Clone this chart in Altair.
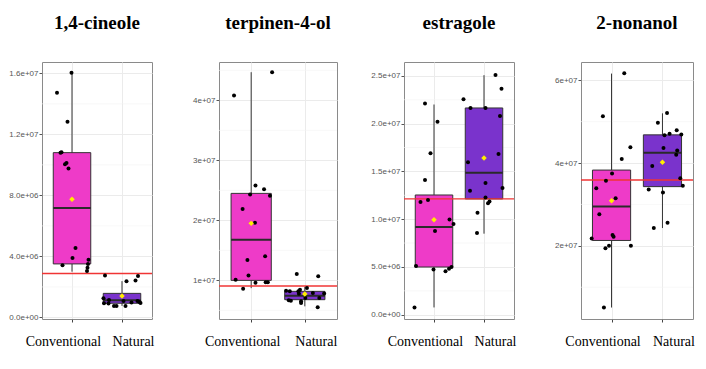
import altair as alt
import pandas as pd

titles = ["1,4-cineole", "terpinen-4-ol", "estragole", "2-nonanol"]
groups = ["Conventional", "Natural"]
box_colors = ["#EE3BC8", "#7A33CC"]

# ---------- panel 1: 1,4-cineole ----------
p1_conv_dx = [-0.01, -0.30, -0.09, -0.23, -0.21, -0.14, -0.11, -0.07, 0.07, 0.01, -0.19, 0.33, 0.32, 0.31, 0.30]
p1_conv_y = [1.604e7, 1.472e7, 1.283e7, 1.08e7, 1.082e7, 1.004e7, 1.012e7, 0.976e7, 0.455e7, 0.39e7, 0.343e7, 0.379e7, 0.351e7, 0.325e7, 0.304e7]
p1_nat_dx = [-0.34, 0.09, 0.27, 0.32, -0.37, -0.36, -0.27, -0.26, -0.16, -0.11, 0.07, 0.03, 0.19, 0.31, 0.35, 0.37]
p1_nat_y = [0.275e7, 0.238e7, 0.243e7, 0.271e7, 0.126e7, 0.093e7, 0.091e7, 0.115e7, 0.076e7, 0.076e7, 0.076e7, 0.108e7, 0.098e7, 0.108e7, 0.102e7, 0.095e7]
# lo, q1, median, q3, hi, mean
p1_conv_stats = [0.30e7, 0.351e7, 0.718e7, 1.08e7, 1.604e7, 0.774e7]
p1_nat_stats = [0.076e7, 0.093e7, 0.113e7, 0.158e7, 0.238e7, 0.141e7]
p1_ref = 0.288e7
p1_domain = [-0.01e7, 1.674e7]
p1_ticks = [0, 4e6, 8e6, 1.2e7, 1.6e7]
p1_tick_labels = ["0.0e+00", "4.0e+06", "8.0e+06", "1.2e+07", "1.6e+07"]

# ---------- panel 2: terpinen-4-ol ----------
p2_conv_dx = [0.39, -0.32, 0.08, 0.24, -0.02, 0.35, -0.16, 0.07, -0.07, 0.26, -0.05, -0.29, -0.15, 0.08, 0.27, 0.31]
p2_conv_y = [4.47e7, 4.08e7, 2.58e7, 2.52e7, 2.43e7, 2.41e7, 2.19e7, 1.96e7, 1.34e7, 1.40e7, 1.08e7, 1.01e7, 0.86e7, 0.96e7, 0.97e7, 0.97e7]
p2_nat_dx = [-0.15, 0.25, -0.35, -0.28, -0.12, -0.09, 0.04, -0.11, 0.15, 0.36, -0.30, -0.26, -0.07, -0.07, 0.01, 0.24, 0.27]
p2_nat_y = [1.106e7, 1.067e7, 0.828e7, 0.817e7, 0.817e7, 0.844e7, 0.872e7, 0.778e7, 0.789e7, 0.783e7, 0.667e7, 0.661e7, 0.65e7, 0.622e7, 0.706e7, 0.55e7, 0.706e7]
p2_conv_stats = [0.87e7, 1.0e7, 1.678e7, 2.45e7, 4.47e7, 1.95e7]
p2_nat_stats = [0.567e7, 0.678e7, 0.744e7, 0.817e7, 0.894e7, 0.772e7]
p2_ref = 0.906e7
p2_domain = [0.356e7, 4.64e7]
p2_ticks = [1e7, 2e7, 3e7, 4e7]
p2_tick_labels = ["1e+07", "2e+07", "3e+07", "4e+07"]

# ---------- panel 3: estragole ----------
p3_conv_dx = [-0.18, 0.07, -0.07, -0.18, -0.27, -0.12, 0.02, 0.31, 0.39, -0.36, -0.01, 0.23, 0.30, 0.35, -0.39]
p3_conv_y = [2.21e7, 2.02e7, 1.69e7, 1.41e7, 1.18e7, 1.20e7, 0.876e7, 0.997e7, 0.95e7, 0.51e7, 0.474e7, 0.454e7, 0.48e7, 0.50e7, 0.076e7]
p3_nat_dx = [0.23, 0.35, -0.41, -0.27, 0.03, 0.32, -0.32, 0.29, -0.28, 0.03, 0.37, 0.03, 0.08, 0.11, -0.13, -0.14]
p3_nat_y = [2.51e7, 2.365e7, 2.254e7, 2.164e7, 2.164e7, 2.08e7, 1.596e7, 1.683e7, 1.298e7, 1.378e7, 1.326e7, 1.226e7, 1.167e7, 1.184e7, 1.066e7, 0.855e7]
p3_conv_stats = [0.076e7, 0.499e7, 0.918e7, 1.253e7, 2.20e7, 0.994e7]
p3_nat_stats = [0.848e7, 1.212e7, 1.485e7, 2.164e7, 2.507e7, 1.641e7]
p3_ref = 1.212e7
p3_domain = [-0.045e7, 2.645e7]
p3_ticks = [0, 5e6, 1e7, 1.5e7, 2e7, 2.5e7]
p3_tick_labels = ["0.0e+00", "5.0e+06", "1.0e+07", "1.5e+07", "2.0e+07", "2.5e+07"]

# ---------- panel 4: 2-nonanol ----------
p4_conv_dx = [0.25, -0.17, 0.37, 0.20, 0.01, -0.11, -0.30, 0.08, -0.24, 0.02, 0.04, -0.39, -0.12, -0.05, 0.38, -0.15]
p4_conv_y = [6.17e7, 5.13e7, 4.38e7, 4.10e7, 3.75e7, 3.57e7, 3.39e7, 3.15e7, 2.76e7, 2.26e7, 2.22e7, 2.18e7, 1.94e7, 2.0e7, 2.0e7, 0.51e7]
p4_nat_dx = [0.09, -0.09, 0.04, 0.14, 0.28, 0.37, 0.29, 0.27, 0.02, -0.20, 0.35, 0.40, -0.27, 0.01, 0.10, -0.17]
p4_nat_y = [5.21e7, 4.97e7, 4.67e7, 4.71e7, 4.79e7, 4.69e7, 4.30e7, 4.2e7, 4.36e7, 3.93e7, 3.63e7, 3.45e7, 3.36e7, 3.29e7, 2.56e7, 2.43e7]
p4_conv_stats = [0.51e7, 2.13e7, 2.95e7, 3.83e7, 6.16e7, 3.09e7]
p4_nat_stats = [2.43e7, 3.43e7, 4.25e7, 4.68e7, 5.2e7, 4.02e7]
p4_ref = 3.59e7
p4_domain = [0.233e7, 6.44e7]
p4_ticks = [2e7, 4e7, 6e7]
p4_tick_labels = ["2e+07", "4e+07", "6e+07"]

panels = [
    (p1_conv_dx, p1_conv_y, p1_nat_dx, p1_nat_y, p1_conv_stats, p1_nat_stats, p1_ref, p1_domain, p1_ticks, p1_tick_labels),
    (p2_conv_dx, p2_conv_y, p2_nat_dx, p2_nat_y, p2_conv_stats, p2_nat_stats, p2_ref, p2_domain, p2_ticks, p2_tick_labels),
    (p3_conv_dx, p3_conv_y, p3_nat_dx, p3_nat_y, p3_conv_stats, p3_nat_stats, p3_ref, p3_domain, p3_ticks, p3_tick_labels),
    (p4_conv_dx, p4_conv_y, p4_nat_dx, p4_nat_y, p4_conv_stats, p4_nat_stats, p4_ref, p4_domain, p4_ticks, p4_tick_labels),
]
widths = [110, 118, 110, 112]
PANEL_H = 257
BOX_HALF = 0.375
GRID = "#ebebeb"

x_axis = alt.Axis(
    values=[1, 2],
    labelExpr=f"datum.value == 1 ? '{groups[0]}' : '{groups[1]}'",
    title=None, grid=True, gridColor=GRID, domain=False,
    ticks=True, tickSize=3, tickColor="#444444",
    labelFont="Liberation Serif", labelFontSize=14, labelColor="black",
    labelPadding=12,
    labelOffset={"condition": {"test": "datum.value < 1.5", "value": -9}, "value": 11},
)


def y_axis(ticks, labels):
    vals = ",".join(repr(float(v)) for v in ticks)
    labs = ",".join(f"'{l}'" for l in labels)
    expr = f"[{labs}][indexof([{vals}], datum.value)]"
    return alt.Axis(values=ticks, labelExpr=expr, title=None, grid=True, gridColor=GRID,
                    domain=False, tickSize=3, tickColor="#555555", labelPadding=1,
                    labelFont="Liberation Sans", labelFontSize=8, labelColor="#555555")


def make_panel(i):
    cdx, cy, ndx, ny, cst, nst, ref, dom, ticks, tlabels = panels[i]
    xs = alt.Scale(domain=[0.4, 2.6], nice=False, zero=False)
    ys = alt.Scale(domain=dom, nice=False, zero=False)
    yax = y_axis(ticks, tlabels)

    def X(f):
        return alt.X(f, type="quantitative", scale=xs, axis=x_axis)

    def Y(f):
        return alt.Y(f, type="quantitative", scale=ys, axis=yax)

    pts = pd.DataFrame({
        "x": [1 + d for d in cdx] + [2 + d for d in ndx],
        "v": cy + ny,
    })
    stats = pd.DataFrame({
        "g": groups,
        "c": [1, 2],
        "x1": [1 - BOX_HALF, 2 - BOX_HALF],
        "x2": [1 + BOX_HALF, 2 + BOX_HALF],
        "lo": [cst[0], nst[0]], "q1": [cst[1], nst[1]], "med": [cst[2], nst[2]],
        "q3": [cst[3], nst[3]], "hi": [cst[4], nst[4]], "mean": [cst[5], nst[5]],
    })
    minor = pd.DataFrame({"m": [(a + b) / 2 for a, b in zip(ticks[:-1], ticks[1:])]
                          + [ticks[0] - (ticks[1] - ticks[0]) / 2, ticks[-1] + (ticks[1] - ticks[0]) / 2]})
    minor = minor[(minor.m > dom[0]) & (minor.m < dom[1])]
    refdf = pd.DataFrame({"r": [ref]})

    minor_l = alt.Chart(minor).mark_rule(color="#f3f3f3", strokeWidth=0.6).encode(y=Y("m"))
    whisk = alt.Chart(stats).mark_rule(color="#333333", strokeWidth=1).encode(x=X("c"), y=Y("lo"), y2="hi")
    box = alt.Chart(stats).mark_rect(stroke="#333333", strokeWidth=1).encode(
        x=X("x1"), x2="x2", y=Y("q1"), y2="q3",
        color=alt.Color("g:N", scale=alt.Scale(domain=groups, range=box_colors), legend=None))
    med = alt.Chart(stats).mark_rule(color="#2a2a2a", strokeWidth=2).encode(x=X("x1"), x2="x2", y=Y("med"))
    refl = alt.Chart(refdf).mark_rule(color="#f03434", strokeWidth=1.3).encode(y=Y("r"))
    dots = alt.Chart(pts).mark_circle(size=16, color="black", opacity=1).encode(x=X("x"), y=Y("v"))
    mean = alt.Chart(stats).mark_point(shape="diamond", filled=True, color="#FFEE00", size=30, opacity=1).encode(
        x=X("c"), y=Y("mean"))

    return alt.layer(minor_l, whisk, box, med, refl, dots, mean).properties(
        width=widths[i], height=PANEL_H,
        title=alt.TitleParams(titles[i], font="Liberation Serif", fontSize=19, fontWeight="bold",
                              color="black", anchor="middle", offset=14, baseline="alphabetic"),
    )


chart = alt.hconcat(*[make_panel(i) for i in range(4)], spacing=67, bounds="flush").properties(
    padding={"left": 0, "top": 5, "right": 0, "bottom": 0}
).configure_view(stroke="#8a8a8a", strokeWidth=1)

chart.save("out.html", embed_options={"renderer": "svg", "actions": False})
